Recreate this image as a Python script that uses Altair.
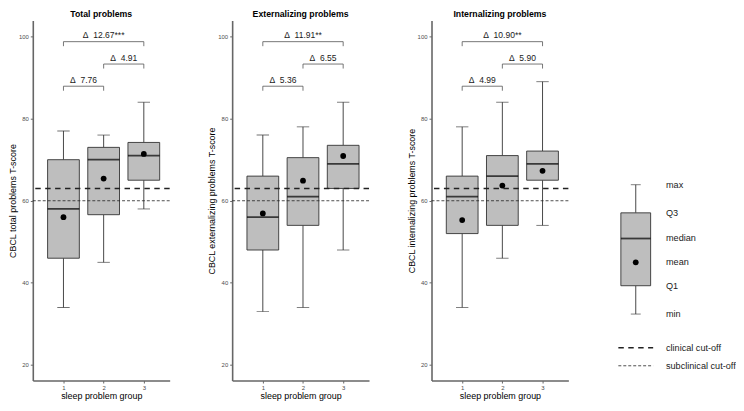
import altair as alt
import pandas as pd

FONT = "Liberation Sans"

groups = [1, 2, 3]
panel_titles = ["Total problems", "Externalizing problems", "Internalizing problems"]
y_titles = ["CBCL total problems T-score",
            "CBCL externalizing problems T-score",
            "CBCL internalizing problems T-score"]

# Total problems
total_min = [34, 45, 58]
total_q1 = [46, 56.6, 65]
total_median = [58, 70, 71]
total_mean = [56, 65.4, 71.4]
total_q3 = [70, 73, 74.2]
total_max = [77, 76, 84]

# Externalizing problems
ext_min = [33, 34, 48]
ext_q1 = [48, 54, 63]
ext_median = [56, 61, 69]
ext_mean = [56.9, 64.9, 70.9]
ext_q3 = [66, 70.5, 73.5]
ext_max = [76, 78, 84]

# Internalizing problems
int_min = [34, 46, 54]
int_q1 = [52, 54, 65]
int_median = [61, 66, 69]
int_mean = [55.3, 63.7, 67.3]
int_q3 = [66, 71, 72.1]
int_max = [78, 84, 89]

# comparison brackets
bracket_from = [1, 2, 1]
bracket_to = [3, 3, 2]
bracket_level = [98.75, 93.3, 87.9]
total_deltas = ["12.67***", "4.91", "7.76"]
ext_deltas = ["11.91**", "6.55", "5.36"]
int_deltas = ["10.90**", "5.90", "4.99"]

clinical_cutoff = 63
subclinical_cutoff = 60

# legend (illustrative box)
legend_labels = ["max", "Q3", "median", "mean", "Q1", "min"]
legend_values = [63.9, 57.05, 50.8, 45.0, 39.3, 32.4]
line_labels = ["clinical cut-off", "subclinical cut-off"]
line_values = [24.2, 19.8]

stats = [
    (total_min, total_q1, total_median, total_mean, total_q3, total_max, total_deltas),
    (ext_min, ext_q1, ext_median, ext_mean, ext_q3, ext_max, ext_deltas),
    (int_min, int_q1, int_median, int_mean, int_q3, int_max, int_deltas),
]

Y_DOMAIN = [16.2, 103.9]
X_DOMAIN = [0.36, 3.52]
W = 138
H = 363
BOX_W = 32
CAP_W = 12.5
STROKE = "#333333"
FILL = "#bebebe"
CLIN_DASH = [5.5, 4.5]
SUB_DASH = [3, 2]


def title_params(text):
    return alt.TitleParams(text=text, fontSize=8.8, fontWeight="bold", font=FONT,
                           anchor="middle", frame="group", offset=2, color="black")


def panel(i):
    mn, q1, med, mean, q3, mx, deltas = stats[i]
    df = pd.DataFrame({"group": groups, "min": mn, "q1": q1, "median": med,
                       "mean": mean, "q3": q3, "max": mx})
    br = pd.DataFrame({"x1": bracket_from, "x2": bracket_to, "level": bracket_level,
                       "label": ["\u0394\u00a0\u00a0" + d for d in deltas]})
    cut = pd.DataFrame({"clin": [clinical_cutoff], "sub": [subclinical_cutoff]})

    xscale = alt.Scale(domain=X_DOMAIN, nice=False, zero=False)
    yscale = alt.Scale(domain=Y_DOMAIN, nice=False, zero=False)
    xaxis = alt.Axis(values=groups, format="d", title="sleep problem group")
    yaxis = alt.Axis(values=[20, 40, 60, 80, 100], title=y_titles[i])

    def X(f):
        return alt.X(f, type="quantitative", scale=xscale, axis=xaxis)

    def Y(f):
        return alt.Y(f, type="quantitative", scale=yscale, axis=yaxis)

    base = alt.Chart(df)
    whisk_lo = base.mark_rule(color=STROKE, strokeWidth=0.9).encode(
        x=X("group"), y=Y("min"), y2="q1")
    whisk_hi = base.mark_rule(color=STROKE, strokeWidth=0.9).encode(
        x=X("group"), y=Y("q3"), y2="max")
    cap_lo = base.mark_tick(orient="horizontal", size=CAP_W, thickness=0.9, color=STROKE).encode(
        x=X("group"), y=Y("min"))
    cap_hi = base.mark_tick(orient="horizontal", size=CAP_W, thickness=0.9, color=STROKE).encode(
        x=X("group"), y=Y("max"))
    box = base.mark_bar(size=BOX_W, fill=FILL, stroke=STROKE, strokeWidth=0.9,
                        orient="vertical").encode(x=X("group"), y=Y("q1"), y2="q3")
    med_t = base.mark_tick(orient="horizontal", size=BOX_W, thickness=1.8, color="black").encode(
        x=X("group"), y=Y("median"))
    mean_p = base.mark_circle(size=34, color="black", opacity=1).encode(
        x=X("group"), y=Y("mean"))

    cbase = alt.Chart(cut)
    clin = cbase.mark_rule(color="#222222", strokeWidth=1.5, strokeDash=CLIN_DASH).encode(y=Y("clin"))
    sub = cbase.mark_rule(color="#222222", strokeWidth=0.8, strokeDash=SUB_DASH).encode(y=Y("sub"))

    bbase = alt.Chart(br).transform_calculate(tip="datum.level - 1.1",
                                              xm="(datum.x1 + datum.x2) / 2")
    bh = bbase.mark_rule(color="#555555", strokeWidth=0.8).encode(
        x=X("x1"), x2="x2", y=Y("level"))
    bl = bbase.mark_rule(color="#555555", strokeWidth=0.8).encode(
        x=X("x1"), y=Y("level"), y2="tip")
    brr = bbase.mark_rule(color="#555555", strokeWidth=0.8).encode(
        x=X("x2"), y=Y("level"), y2="tip")
    btxt = bbase.mark_text(dy=-6.5, fontSize=8.6, font=FONT, color="#1a1a1a",
                           baseline="middle", align="center").encode(
        x=X("xm:Q"), y=Y("level"), text="label:N")

    return alt.layer(whisk_lo, whisk_hi, cap_lo, cap_hi, box, med_t, clin, sub, mean_p,
                     bh, bl, brr, btxt).properties(width=W, height=H,
                                                   title=title_params(panel_titles[i]))


def legend_chart():
    LW = 131
    gx = 0.206
    tx = 0.458
    lx1, lx2 = 0.061, 0.351
    d = dict(zip(legend_labels, legend_values))
    box_df = pd.DataFrame({"x": [gx], "min": [d["min"]], "q1": [d["Q1"]], "median": [d["median"]],
                           "mean": [d["mean"]], "q3": [d["Q3"]], "max": [d["max"]]})
    lab_df = pd.DataFrame({"x": [tx] * len(legend_labels), "y": legend_values, "label": legend_labels})
    line_df = pd.DataFrame({"x1": [lx1, lx1], "x2": [lx2, lx2], "tx": [tx, tx],
                            "y": line_values, "label": line_labels})
    xs = alt.Scale(domain=[0, 1], nice=False, zero=False)
    ys = alt.Scale(domain=Y_DOMAIN, nice=False, zero=False)

    def X(f):
        return alt.X(f, type="quantitative", scale=xs, axis=None)

    def Y(f):
        return alt.Y(f, type="quantitative", scale=ys, axis=None)

    b = alt.Chart(box_df)
    layers = [
        b.mark_rule(color=STROKE, strokeWidth=0.9).encode(x=X("x"), y=Y("min"), y2="q1"),
        b.mark_rule(color=STROKE, strokeWidth=0.9).encode(x=X("x"), y=Y("q3"), y2="max"),
        b.mark_tick(orient="horizontal", size=10, thickness=0.9, color=STROKE).encode(x=X("x"), y=Y("min")),
        b.mark_tick(orient="horizontal", size=10, thickness=0.9, color=STROKE).encode(x=X("x"), y=Y("max")),
        b.mark_bar(size=30, fill=FILL, stroke=STROKE, strokeWidth=0.9, orient="vertical").encode(
            x=X("x"), y=Y("q1"), y2="q3"),
        b.mark_tick(orient="horizontal", size=30, thickness=1.8, color="black").encode(
            x=X("x"), y=Y("median")),
        b.mark_circle(size=34, color="black", opacity=1).encode(x=X("x"), y=Y("mean")),
        alt.Chart(lab_df).mark_text(align="left", baseline="middle", fontSize=9.2, font=FONT,
                                    color="#1a1a1a").encode(x=X("x"), y=Y("y"), text="label:N"),
    ]
    ld = alt.Chart(line_df)
    layers += [
        ld.transform_filter("datum.label == 'clinical cut-off'").mark_rule(
            color="#222222", strokeWidth=1.5, strokeDash=CLIN_DASH).encode(x=X("x1"), x2="x2", y=Y("y")),
        ld.transform_filter("datum.label == 'subclinical cut-off'").mark_rule(
            color="#222222", strokeWidth=0.8, strokeDash=SUB_DASH).encode(x=X("x1"), x2="x2", y=Y("y")),
        ld.mark_text(align="left", baseline="middle", fontSize=9.2, font=FONT, color="#1a1a1a").encode(
            x=X("tx"), y=Y("y"), text="label:N"),
    ]
    return alt.layer(*layers).properties(width=LW, height=H, title=title_params(" "))


chart = alt.hconcat(panel(0), panel(1), panel(2), legend_chart(), spacing=37).properties(
    padding=0, background="white"
).configure(font=FONT).configure_view(stroke=None).configure_axis(
    domainColor="#666666", domainWidth=1.6, tickColor="#666666", tickSize=2.5, tickWidth=1,
    labelFontSize=6, labelColor="#4d4d4d", labelFont=FONT,
    titleFontSize=9, titleFontWeight="normal", titleColor="black", titleFont=FONT,
    grid=False
).configure_axisX(labelPadding=1.5, titlePadding=1).configure_axisY(labelPadding=2, titlePadding=1)

chart.save("out.html", embed_options={"renderer": "svg", "actions": False})
